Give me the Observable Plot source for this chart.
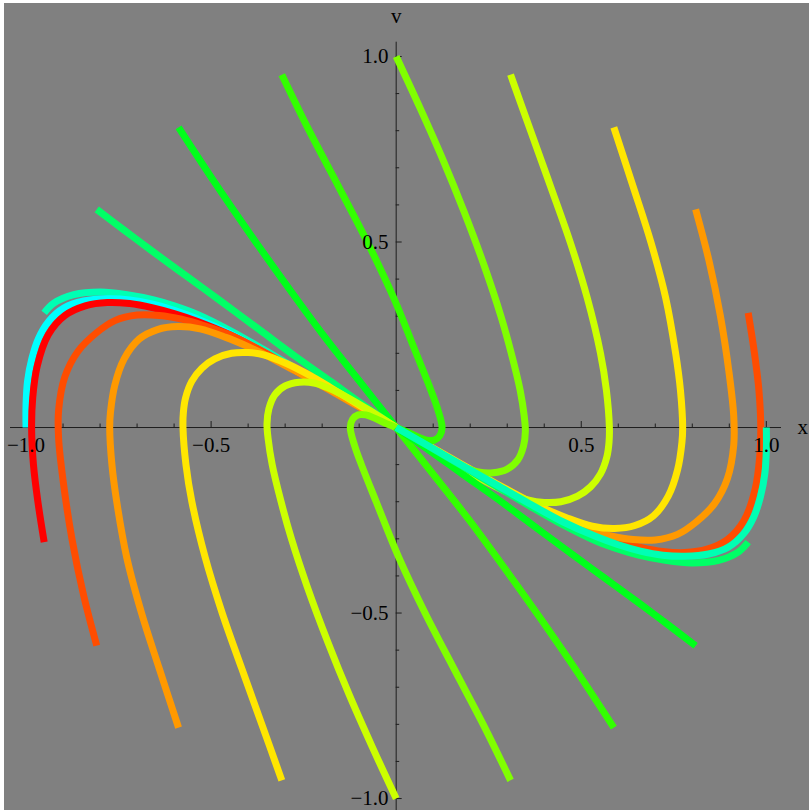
<!DOCTYPE html>
<html>
<head>
<meta charset="utf-8">
<script src="https://cdn.jsdelivr.net/npm/d3@7"></script>
<script src="https://cdn.jsdelivr.net/npm/@observablehq/plot@0.6"></script>
<style>
  html, body { margin: 0; padding: 0; background: #fff; }
  #chart { position: absolute; left: 4px; top: 3px; }
</style>
</head>
<body>
<div id="chart"></div>
<script>
// Phase-plane trajectories (x, v), each starting on the unit circle and
// running into the origin. Named by starting angle in degrees.
const from0 = [[1,0],[1.0,-0.06],[0.996,-0.124],[0.984,-0.187],[0.966,-0.241],[0.939,-0.286],[0.898,-0.322],[0.844,-0.341],[0.781,-0.347],[0.72,-0.344],[0.66,-0.333],[0.6,-0.316],[0.54,-0.294],[0.45,-0.254],[0.358,-0.204],[0.27,-0.154],[0.178,-0.102],[0.09,-0.051],[0,0]];
const from18 = [[0.951,0.309],[0.968,0.2],[0.98,0.1],[0.985,0],[0.982,-0.08],[0.97,-0.165],[0.94,-0.25],[0.895,-0.302],[0.84,-0.328],[0.78,-0.337],[0.72,-0.334],[0.66,-0.323],[0.6,-0.307],[0.54,-0.287],[0.45,-0.25],[0.358,-0.202],[0.27,-0.152],[0.178,-0.101],[0.09,-0.051],[0,0]];
const from36 = [[0.809,0.588],[0.845,0.45],[0.876,0.3],[0.899,0.15],[0.912,0.03],[0.912,-0.047],[0.895,-0.137],[0.86,-0.205],[0.81,-0.255],[0.76,-0.288],[0.7,-0.303],[0.64,-0.302],[0.58,-0.292],[0.52,-0.275],[0.45,-0.25],[0.358,-0.204],[0.27,-0.154],[0.178,-0.102],[0.09,-0.051],[0,0]];
const from54 = [[0.588,0.809],[0.64,0.65],[0.688,0.5],[0.728,0.35],[0.755,0.2],[0.768,0.1],[0.774,0],[0.772,-0.04],[0.76,-0.115],[0.735,-0.185],[0.695,-0.238],[0.645,-0.264],[0.59,-0.272],[0.53,-0.266],[0.46,-0.243],[0.4,-0.218],[0.358,-0.198],[0.27,-0.151],[0.178,-0.1],[0.09,-0.05],[0,0]];
const from72 = [[0.309,0.951],[0.363,0.8],[0.417,0.65],[0.47,0.5],[0.516,0.35],[0.552,0.2],[0.568,0.1],[0.576,0],[0.575,-0.04],[0.569,-0.08],[0.552,-0.125],[0.525,-0.16],[0.49,-0.185],[0.445,-0.2],[0.4,-0.202],[0.358,-0.196],[0.295,-0.172],[0.232,-0.14],[0.178,-0.108],[0.09,-0.054],[0,0]];
const from90 = [[0,1],[0.065,0.86],[0.127,0.72],[0.184,0.58],[0.24,0.43],[0.283,0.3],[0.311,0.2],[0.335,0.1],[0.346,0.03],[0.349,-0.01],[0.344,-0.05],[0.328,-0.088],[0.3,-0.112],[0.262,-0.122],[0.222,-0.12],[0.18,-0.105],[0.135,-0.083],[0.07,-0.045],[0,0]];
const from108 = [[-0.309,0.951],[-0.235,0.8],[-0.156,0.65],[-0.078,0.5],[-0.007,0.35],[0.054,0.2],[0.094,0.1],[0.112,0.05],[0.124,0],[0.118,-0.022],[0.103,-0.034],[0.082,-0.034],[0.06,-0.026],[0.032,-0.013],[0,0]];
const from126 = [[-0.588,0.809],[-0.49,0.66],[-0.39,0.515],[-0.295,0.382],[-0.2,0.253],[-0.1,0.126],[0,0]];
const from144 = [[-0.809,0.588],[-0.735,0.532],[-0.66,0.476],[-0.59,0.425],[-0.525,0.378],[-0.435,0.312],[-0.358,0.255],[-0.27,0.19],[-0.178,0.125],[-0.09,0.062],[0,0]];
const from162 = [[-0.951,0.309],[-0.925,0.335],[-0.871,0.358],[-0.799,0.365],[-0.727,0.358],[-0.655,0.344],[-0.6,0.328],[-0.54,0.306],[-0.45,0.262],[-0.358,0.21],[-0.27,0.158],[-0.178,0.104],[-0.09,0.052],[0,0]];
const from180 = [[-1,0],[-1.0,0.06],[-0.996,0.124],[-0.984,0.187],[-0.966,0.241],[-0.939,0.286],[-0.898,0.322],[-0.844,0.341],[-0.781,0.347],[-0.72,0.344],[-0.66,0.333],[-0.6,0.316],[-0.54,0.294],[-0.45,0.254],[-0.358,0.204],[-0.27,0.154],[-0.178,0.102],[-0.09,0.051],[0,0]];
const from198 = [[-0.951,-0.309],[-0.968,-0.2],[-0.98,-0.1],[-0.985,0],[-0.982,0.08],[-0.97,0.165],[-0.94,0.25],[-0.895,0.302],[-0.84,0.328],[-0.78,0.337],[-0.72,0.334],[-0.66,0.323],[-0.6,0.307],[-0.54,0.287],[-0.45,0.25],[-0.358,0.202],[-0.27,0.152],[-0.178,0.101],[-0.09,0.051],[0,0]];
const from216 = [[-0.809,-0.588],[-0.845,-0.45],[-0.876,-0.3],[-0.899,-0.15],[-0.912,-0.03],[-0.912,0.047],[-0.895,0.137],[-0.86,0.205],[-0.81,0.255],[-0.76,0.288],[-0.7,0.303],[-0.64,0.302],[-0.58,0.292],[-0.52,0.275],[-0.45,0.25],[-0.358,0.204],[-0.27,0.154],[-0.178,0.102],[-0.09,0.051],[0,0]];
const from234 = [[-0.588,-0.809],[-0.64,-0.65],[-0.688,-0.5],[-0.728,-0.35],[-0.755,-0.2],[-0.768,-0.1],[-0.774,0],[-0.772,0.04],[-0.76,0.115],[-0.735,0.185],[-0.695,0.238],[-0.645,0.264],[-0.59,0.272],[-0.53,0.266],[-0.46,0.243],[-0.4,0.218],[-0.358,0.198],[-0.27,0.151],[-0.178,0.1],[-0.09,0.05],[0,0]];
const from252 = [[-0.309,-0.951],[-0.363,-0.8],[-0.417,-0.65],[-0.47,-0.5],[-0.516,-0.35],[-0.552,-0.2],[-0.568,-0.1],[-0.576,0],[-0.575,0.04],[-0.569,0.08],[-0.552,0.125],[-0.525,0.16],[-0.49,0.185],[-0.445,0.2],[-0.4,0.202],[-0.358,0.196],[-0.295,0.172],[-0.232,0.14],[-0.178,0.108],[-0.09,0.054],[0,0]];
const from270 = [[0,-1],[-0.065,-0.86],[-0.127,-0.72],[-0.184,-0.58],[-0.24,-0.43],[-0.283,-0.3],[-0.311,-0.2],[-0.335,-0.1],[-0.346,-0.03],[-0.349,0.01],[-0.344,0.05],[-0.328,0.088],[-0.3,0.112],[-0.262,0.122],[-0.222,0.12],[-0.18,0.105],[-0.135,0.083],[-0.07,0.045],[0,0]];
const from288 = [[0.309,-0.951],[0.235,-0.8],[0.156,-0.65],[0.078,-0.5],[0.007,-0.35],[-0.054,-0.2],[-0.094,-0.1],[-0.112,-0.05],[-0.124,0],[-0.118,0.022],[-0.103,0.034],[-0.082,0.034],[-0.06,0.026],[-0.032,0.013],[0,0]];
const from306 = [[0.588,-0.809],[0.49,-0.66],[0.39,-0.515],[0.295,-0.382],[0.2,-0.253],[0.1,-0.126],[0,0]];
const from324 = [[0.809,-0.588],[0.735,-0.532],[0.66,-0.476],[0.59,-0.425],[0.525,-0.378],[0.435,-0.312],[0.358,-0.255],[0.27,-0.19],[0.178,-0.125],[0.09,-0.062],[0,0]];
const from342 = [[0.951,-0.309],[0.925,-0.335],[0.871,-0.358],[0.799,-0.365],[0.727,-0.358],[0.655,-0.344],[0.6,-0.328],[0.54,-0.306],[0.45,-0.262],[0.358,-0.21],[0.27,-0.158],[0.178,-0.104],[0.09,-0.052],[0,0]];

// Drawing order (later curves sit on top) and the hue of each curve.
const trajectories = [from18, from36, from54, from72, from90, from108, from126, from144, from162, from180,
                      from198, from216, from234, from252, from270, from288, from306, from324, from342, from0];
const trajectoryColors = ["#FF4D00", "#FF9900", "#FFE600", "#CCFF00", "#80FF00", "#33FF00", "#00FF1A", "#00FF66", "#00FFB3", "#00FFFF",
                          "#FF0000", "#FF4D00", "#FF9900", "#FFE600", "#CCFF00", "#80FF00", "#33FF00", "#00FF1A", "#00FF66", "#00FFB3"];

// Axes: plot range, tick positions and labels.
const xRange = [-1.042, 1.041];
const vRange = [-1.0322, 1.0385];
const minorTicks = [-1, -0.9, -0.8, -0.7, -0.6, -0.5, -0.4, -0.3, -0.2, -0.1, 0.1, 0.2, 0.3, 0.4, 0.5, 0.6, 0.7, 0.8, 0.9, 1];
const majorTicks = [-1, -0.5, 0.5, 1];
const tickLabels = ["\u22121.0", "\u22120.5", "0.5", "1.0"];

const W = 805, H = 807;
const margin = {left: 6, right: 28, top: 38.7, bottom: 0};
const pxPerX = (W - margin.left - margin.right) / (xRange[1] - xRange[0]);
const pxPerV = (H - margin.top - margin.bottom) / (vRange[1] - vRange[0]);
const MAJOR_PX = 6, MINOR_PX = 3.5;

const axisColor = "#1e1e1e";
const font = "'Liberation Serif', 'Times New Roman', Times, serif";
const fs = 21;

const curveMarks = trajectories.map((pts, i) =>
  Plot.line(pts, {
    x: d => d[0], y: d => d[1],
    stroke: trajectoryColors[i], strokeWidth: 7,
    curve: "catmull-rom", strokeLinecap: "butt", strokeLinejoin: "round"
  })
);

const chart = Plot.plot({
  width: W, height: H,
  marginLeft: margin.left, marginRight: margin.right,
  marginTop: margin.top, marginBottom: margin.bottom,
  x: {domain: xRange, axis: null},
  y: {domain: vRange, axis: null},
  style: {background: "#808080", overflow: "visible", fontFamily: font},
  marks: [
    Plot.ruleY([0], {stroke: axisColor, strokeWidth: 1}),
    Plot.ruleX([0], {stroke: axisColor, strokeWidth: 1}),
    // x-axis ticks point up, v-axis ticks point right
    Plot.ruleX(minorTicks, {x: d => d, y1: 0, y2: d => (majorTicks.includes(d) ? MAJOR_PX : MINOR_PX) / pxPerV, stroke: axisColor, strokeWidth: 1}),
    Plot.ruleY(minorTicks, {y: d => d, x1: 0, x2: d => (majorTicks.includes(d) ? MAJOR_PX : MINOR_PX) / pxPerX, stroke: axisColor, strokeWidth: 1}),
    ...curveMarks,
    Plot.text(majorTicks, {x: d => d, y: 0, text: (d, i) => tickLabels[i], dy: 18, fontSize: fs, fontFamily: font, fill: "#000"}),
    Plot.text(majorTicks, {x: 0, y: d => d, text: (d, i) => tickLabels[i], dx: -7.7, textAnchor: "end", fontSize: fs, fontFamily: font, fill: "#000"}),
    Plot.text(["x"], {x: xRange[1], y: 0, text: d => d, dx: 16, textAnchor: "start", fontSize: fs, fontFamily: font, fill: "#000"}),
    Plot.text(["v"], {x: 0, y: vRange[1], text: d => d, dy: -26, fontSize: fs, fontFamily: font, fill: "#000"})
  ]
});

document.getElementById("chart").appendChild(chart);
</script>
</body>
</html>
